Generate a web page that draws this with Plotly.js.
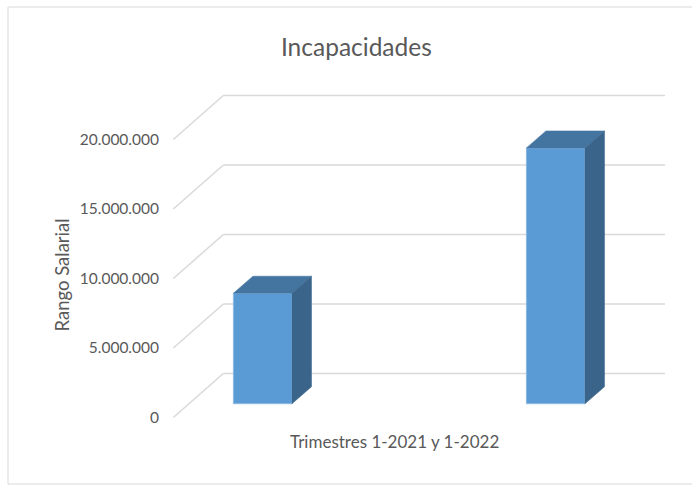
<!DOCTYPE html>
<html>
<head>
<meta charset="utf-8">
<script src="https://cdn.plot.ly/plotly-3.0.1.min.js"></script>
<style>
  html, body { margin: 0; padding: 0; background: #ffffff; }
  #chart { width: 692px; height: 485px; }
</style>
</head>
<body>
<div id="chart"></div>
<script>
// ---- data ----
const categories = ["1-2021", "1-2022"];
const values = [7950000, 18400000];
const tickValues = [0, 5000000, 10000000, 15000000, 20000000];
const tickLabels = ["0", "5.000.000", "10.000.000", "15.000.000", "20.000.000"];
const chartTitle = "Incapacidades";
const xTitle = "Trimestres 1-2021 y 1-2022";
const yTitle = "Rango Salarial";

// ---- geometry of the pseudo-3D view (axis units) ----
const barWidth = 0.2;
const barBase = 993000;
const barDepthX = 0.0666;
const barDepthY = 1223000;
const wallDX = 0.1706;
const wallDY = 3165000;
const xFrontLeft = -0.305;
const xBackLeft = xFrontLeft + wallDX;
const xRight = 1.373;

const colFront = "#5B9BD5";
const colTop = "#4475A1";
const colSide = "#3A6489";
const gridCol = "#D9D9D9";

const xPos = categories.map((c, i) => i);
const traces = [];

traces.push({
  type: "bar",
  x: xPos,
  y: values,
  base: values.map(() => barBase),
  width: barWidth,
  marker: { color: colFront, line: { color: "#8DB8E2", width: 1 } },
  hoverinfo: "skip",
  showlegend: false
});

xPos.forEach((xc, i) => {
  const v = values[i];
  const xl = xc - barWidth / 2, xr = xc + barWidth / 2;
  const top = barBase + v;
  traces.push({
    type: "scatter", mode: "lines", fill: "toself",
    x: [xl, xr, xr + barDepthX, xl + barDepthX, xl],
    y: [top, top, top + barDepthY, top + barDepthY, top],
    fillcolor: colTop, line: { color: colTop, width: 0.5 },
    hoverinfo: "skip", showlegend: false
  });
  traces.push({
    type: "scatter", mode: "lines", fill: "toself",
    x: [xr, xr, xr + barDepthX, xr + barDepthX, xr],
    y: [barBase, top, top + barDepthY, barBase + barDepthY, barBase],
    fillcolor: colSide, line: { color: colSide, width: 0.5 },
    hoverinfo: "skip", showlegend: false
  });
});

const shapes = [];
tickValues.forEach(t => {
  shapes.push({ type: "line", xref: "x", yref: "y", layer: "below",
    x0: xFrontLeft, y0: t, x1: xBackLeft, y1: t + wallDY,
    line: { color: gridCol, width: 1.5 } });
  shapes.push({ type: "line", xref: "x", yref: "y", layer: "below",
    x0: xBackLeft, y0: t + wallDY, x1: xRight, y1: t + wallDY,
    line: { color: gridCol, width: 1.5 } });
});
shapes.push({ type: "rect", xref: "paper", yref: "paper", layer: "below",
  x0: -0.2923, y0: -0.1543, x1: 1.1, y1: 1.2086,
  line: { color: "#D9D9D9", width: 1 } });

const layout = {
  width: 692, height: 485,
  margin: { l: 160, r: 12, t: 80, b: 55 },
  paper_bgcolor: "#ffffff", plot_bgcolor: "rgba(0,0,0,0)",
  font: { family: "Lato, 'Open Sans', sans-serif", color: "#595959" },
  title: { text: chartTitle, font: { size: 24.5, color: "#595959", family: "Lato, sans-serif" },
           x: 0.515, xanchor: "center", y: 0.903, yanchor: "middle" },
  xaxis: { range: [-0.3505, 1.4242], showgrid: false, zeroline: false, showline: false,
           showticklabels: false, ticks: "", fixedrange: true },
  yaxis: { range: [-899000, 24280000], tickvals: tickValues, ticktext: tickLabels,
           showgrid: false, zeroline: false, showline: false, ticks: "",
           tickfont: { size: 15.5, color: "#595959" }, fixedrange: true },
  shapes: shapes,
  annotations: [
    { text: xTitle, xref: "paper", yref: "paper", x: (394 - 160) / 520, y: (430 - 441.5) / 350,
      xanchor: "center", yanchor: "middle", showarrow: false,
      font: { size: 17, color: "#595959" } },
    { text: yTitle, xref: "paper", yref: "paper", x: (61.5 - 160) / 520, y: (430 - 275) / 350,
      xanchor: "center", yanchor: "middle", showarrow: false, textangle: -90,
      font: { size: 18.5, color: "#595959" } }
  ],
  showlegend: false
};

Plotly.newPlot("chart", traces, layout, { displayModeBar: false, staticPlot: true });
</script>
</body>
</html>
